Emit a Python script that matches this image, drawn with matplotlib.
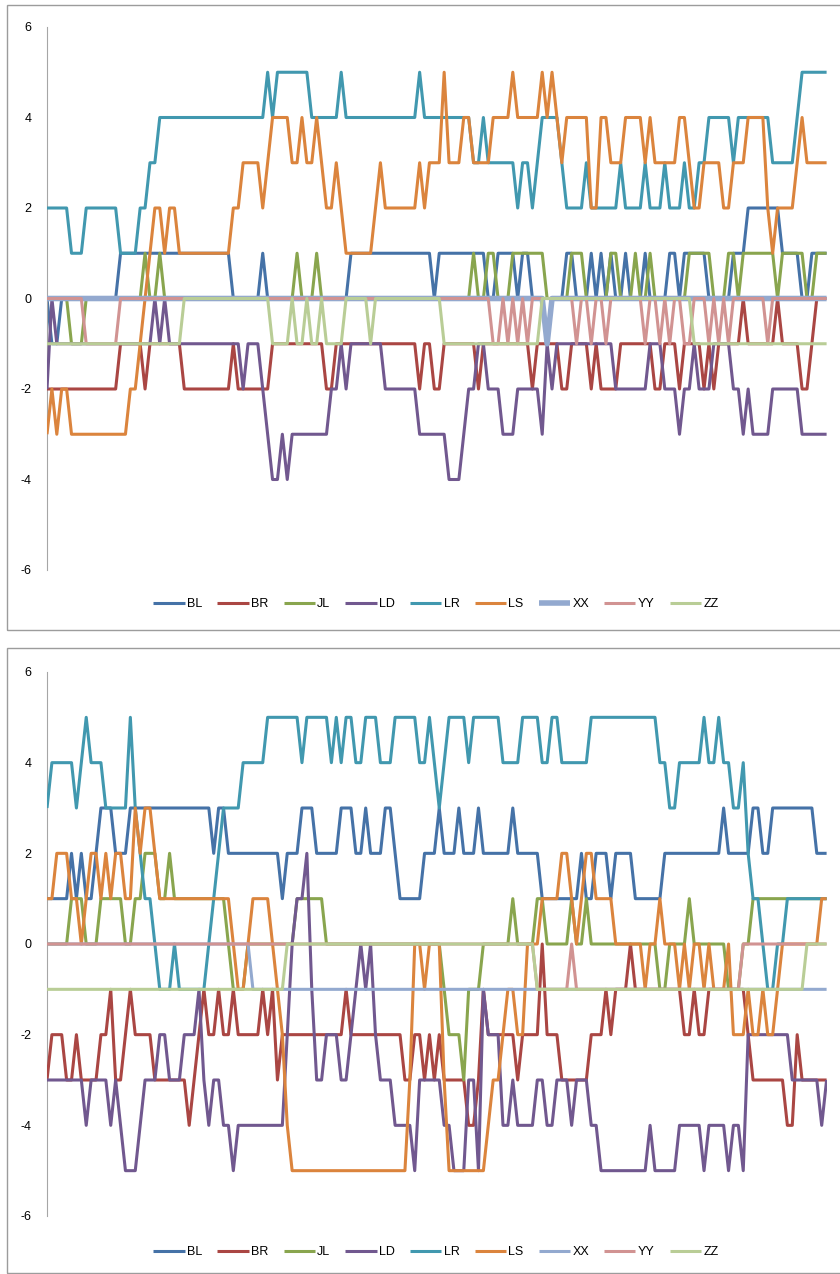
import numpy as np
import matplotlib.pyplot as plt
from matplotlib.patches import Rectangle

N = 160
names = ['BL', 'BR', 'JL', 'LD', 'LR', 'LS', 'XX', 'YY', 'ZZ']
colors = ['#4572A7', '#AA4643', '#89A54E', '#71588F', '#4198AF', '#DB843D',
          '#93A9CF', '#D19392', '#B9CD96']

# each series is stored as (index, value) pairs: the value holds from that index on
# top chart
top_bl = [(0, 0), (1, -1), (3, 0), (15, 1), (38, 0), (44, 1), (45, 0), (62, 1), (79, 0), (80, 1),
          (90, 0), (92, 1), (96, 0), (97, 1), (99, 0), (106, 1), (108, 0), (111, 1), (112, 0),
          (113, 1), (114, 0), (115, 1), (116, 0), (118, 1), (119, 0), (122, 1), (123, 0), (127, 1),
          (129, 0), (130, 1), (135, 0), (140, 1), (143, 2), (150, 1), (154, 0), (156, 1)]
top_br = [(0, -2), (15, -1), (20, -2), (21, -1), (28, -2), (38, -1), (39, -2), (46, -1), (57, -2),
          (59, -1), (76, -2), (77, -1), (79, -2), (81, -1), (88, -2), (89, -1), (99, -2), (100, -1),
          (105, -2), (107, -1), (111, -2), (112, -1), (113, -2), (117, -1), (124, -2), (126, -1),
          (129, -2), (130, -1), (134, -2), (135, -1), (136, -2), (137, -1), (142, 0), (143, -1),
          (149, 0), (150, -1), (154, -2), (156, -1), (157, 0)]
top_jl = [(0, 0), (5, -1), (8, 0), (20, 1), (21, 0), (23, 1), (24, 0), (51, 1), (52, 0), (55, 1),
          (56, 0), (87, 1), (88, 0), (90, 1), (92, 0), (95, 1), (102, 0), (107, 1), (110, 0),
          (115, 1), (117, 0), (120, 1), (121, 0), (123, 1), (124, 0), (131, 1), (136, 0), (139, 1),
          (141, 0), (142, 1), (149, 0), (150, 1), (155, 0), (157, 1)]
top_ld = [(0, -2), (1, 0), (2, -1), (22, 0), (23, -1), (24, 0), (25, -1), (40, -2), (41, -1),
          (44, -2), (45, -3), (46, -4), (48, -3), (49, -4), (50, -3), (58, -2), (60, -1), (61, -2),
          (62, -1), (69, -2), (76, -3), (82, -4), (85, -3), (86, -2), (88, -1), (90, -2), (93, -3),
          (96, -2), (101, -3), (102, -1), (103, -2), (104, -1), (116, -2), (123, -1), (126, -2),
          (129, -3), (130, -2), (132, -1), (133, -2), (136, -1), (140, -2), (142, -3), (143, -2),
          (144, -3), (148, -2), (154, -3)]
top_lr = [(0, 2), (5, 1), (8, 2), (15, 1), (19, 2), (21, 3), (23, 4), (45, 5), (46, 4), (47, 5),
          (54, 4), (60, 5), (61, 4), (76, 5), (77, 4), (87, 3), (89, 4), (90, 3), (96, 2), (97, 3),
          (99, 2), (100, 3), (101, 4), (105, 3), (106, 2), (110, 3), (111, 2), (117, 3), (118, 2),
          (122, 3), (123, 2), (126, 3), (127, 2), (130, 3), (131, 2), (133, 3), (135, 4), (140, 3),
          (141, 4), (148, 3), (153, 4), (154, 5)]
top_ls = [(0, -3), (1, -2), (2, -3), (3, -2), (5, -3), (17, -2), (19, -1), (20, 0), (21, 1), (22, 2),
          (24, 1), (25, 2), (27, 1), (38, 2), (40, 3), (44, 2), (45, 3), (46, 4), (50, 3), (52, 4),
          (53, 3), (55, 4), (56, 3), (57, 2), (59, 3), (60, 2), (61, 1), (67, 2), (68, 3), (69, 2),
          (76, 3), (77, 2), (78, 3), (81, 5), (82, 3), (85, 4), (87, 3), (91, 4), (95, 5), (96, 4),
          (101, 5), (102, 4), (103, 5), (104, 4), (105, 3), (106, 4), (111, 2), (113, 4), (115, 3),
          (118, 4), (122, 3), (123, 4), (124, 3), (129, 4), (131, 3), (132, 2), (134, 3), (138, 2),
          (140, 3), (143, 4), (147, 2), (148, 1), (149, 2), (153, 3), (154, 4), (155, 3)]
top_xx = [(0, 0), (102, -1), (103, 0)]
top_yy = [(0, 0), (8, -1), (15, 0), (91, -1), (93, 0), (94, -1), (95, 0), (96, -1), (97, 0),
          (98, -1), (99, 0), (108, -1), (109, 0), (111, -1), (112, 0), (114, -1), (115, 0),
          (122, -1), (123, 0), (125, -1), (126, 0), (127, -1), (128, 0), (130, -1), (132, 0),
          (135, -1), (136, 0), (137, -1), (138, 0), (139, -1), (140, 0), (147, -1), (148, 0)]
top_zz = [(0, -1), (28, 0), (46, -1), (50, 0), (51, -1), (53, 0), (54, -1), (56, 0), (57, -1),
          (61, 0), (66, -1), (67, 0), (81, -1), (101, 0), (132, -1)]

# bottom chart
bot_bl = [(0, 1), (5, 2), (6, 1), (7, 2), (8, 1), (10, 2), (11, 3), (14, 2), (17, 3), (34, 2),
          (35, 3), (37, 2), (48, 1), (49, 2), (52, 3), (55, 2), (60, 3), (63, 2), (65, 3), (66, 2),
          (69, 3), (71, 2), (72, 1), (77, 2), (80, 3), (81, 2), (84, 3), (85, 2), (88, 3), (89, 2),
          (95, 3), (96, 2), (101, 1), (109, 2), (110, 1), (112, 2), (115, 1), (116, 2), (120, 1),
          (126, 2), (138, 3), (139, 2), (144, 3), (146, 2), (148, 3), (157, 2)]
bot_br = [(0, -3), (1, -2), (4, -3), (6, -2), (7, -3), (11, -2), (13, -1), (14, -3), (16, -2),
          (17, -1), (18, -2), (22, -3), (29, -4), (30, -3), (31, -2), (32, -1), (33, -2), (35, -1),
          (36, -2), (38, -1), (39, -2), (44, -1), (45, -2), (46, -1), (47, -3), (48, -2), (61, -1),
          (62, -2), (73, -3), (75, -2), (77, -3), (78, -2), (79, -3), (80, -2), (81, -3), (86, -4),
          (88, -3), (89, -1), (90, -2), (96, -3), (97, -2), (101, 0), (102, -2), (105, -3),
          (111, -2), (114, -1), (115, -2), (116, -1), (119, 0), (120, -1), (130, -2), (132, -1),
          (133, -2), (135, -1), (143, -2), (144, -3), (151, -4), (153, -2), (154, -3)]
bot_jl = [(0, 0), (5, 1), (8, 0), (11, 1), (16, 0), (18, 1), (20, 2), (23, 1), (25, 2), (26, 1),
          (37, 0), (38, -1), (41, 0), (51, 1), (57, 0), (81, -1), (82, -2), (85, -3), (86, -1),
          (89, 0), (95, 1), (96, 0), (100, 1), (102, 0), (107, 1), (108, 0), (110, 1), (111, 0),
          (125, -1), (127, 0), (131, 1), (132, 0), (139, -1), (142, 0), (144, 1)]
bot_ld = [(0, -3), (8, -4), (9, -3), (13, -4), (14, -3), (15, -4), (16, -5), (19, -4), (20, -3),
          (23, -2), (25, -3), (28, -2), (31, -1), (32, -3), (33, -4), (34, -3), (36, -4), (38, -5),
          (39, -4), (49, -2), (50, 0), (51, 1), (53, 2), (54, -1), (55, -3), (57, -2), (60, -3),
          (62, -2), (63, -1), (64, 0), (65, -1), (66, 0), (67, -2), (68, -3), (71, -4), (75, -5),
          (76, -3), (81, -4), (83, -5), (86, -3), (88, -5), (89, -1), (90, -2), (93, -4), (95, -3),
          (96, -4), (100, -3), (102, -4), (104, -3), (107, -4), (108, -3), (111, -4), (113, -5),
          (123, -4), (124, -5), (129, -4), (134, -5), (135, -4), (139, -5), (140, -4), (142, -5),
          (143, -2), (152, -3), (158, -4), (159, -3)]
bot_lr = [(0, 3), (1, 4), (6, 3), (7, 4), (8, 5), (9, 4), (12, 3), (17, 5), (18, 3), (19, 2),
          (20, 1), (22, 0), (23, -1), (26, 0), (27, -1), (33, 0), (34, 1), (35, 2), (36, 3), (40, 4),
          (45, 5), (52, 4), (53, 5), (58, 4), (59, 5), (60, 4), (61, 5), (63, 4), (65, 5), (68, 4),
          (71, 5), (76, 4), (78, 5), (79, 4), (80, 3), (81, 4), (82, 5), (86, 4), (87, 5), (93, 4),
          (97, 5), (101, 4), (103, 5), (105, 4), (111, 5), (125, 4), (127, 3), (129, 4), (134, 5),
          (135, 4), (137, 5), (138, 4), (140, 3), (142, 4), (143, 2), (144, 1), (146, 0), (147, -1),
          (149, 0), (151, 1)]
bot_ls = [(0, 1), (2, 2), (5, 1), (7, 0), (8, 1), (9, 2), (11, 1), (12, 2), (13, 1), (14, 2),
          (16, 1), (18, 3), (19, 2), (20, 3), (22, 2), (23, 1), (38, 0), (39, -1), (41, 0), (42, 1),
          (46, 0), (47, -1), (48, -2), (49, -4), (50, -5), (74, -3), (75, 0), (77, -1), (78, 0),
          (81, -3), (82, -5), (90, -4), (91, -3), (93, -2), (94, -1), (96, -2), (98, 0), (101, 1),
          (105, 2), (107, 1), (108, 0), (109, 1), (110, 2), (112, 1), (116, 0), (122, -1), (123, 0),
          (125, 1), (126, 0), (129, -1), (130, 0), (131, -1), (132, 0), (134, -1), (135, 0),
          (136, -1), (139, 0), (140, -2), (143, -1), (144, -2), (146, -1), (147, -2), (149, -1),
          (150, 0), (158, 1)]
bot_xx = [(0, 0), (42, -1)]
bot_yy = [(0, 0), (100, -1), (107, 0), (108, -1), (142, 0)]
bot_zz = [(0, -1), (49, 0), (100, -1), (155, 0)]

top_series = [top_bl, top_br, top_jl, top_ld, top_lr, top_ls, top_xx, top_yy, top_zz]
bot_series = [bot_bl, bot_br, bot_jl, bot_ld, bot_lr, bot_ls, bot_xx, bot_yy, bot_zz]


def expand(changes):
    vals = np.zeros(N)
    for k, (start, v) in enumerate(changes):
        end = changes[k + 1][0] if k + 1 < len(changes) else N
        vals[start:end] = v
    return vals


W, H = 840, 1274
plt.rcParams['font.family'] = ['Liberation Sans', 'DejaVu Sans']
plt.rcParams['axes.unicode_minus'] = False
fig = plt.figure(figsize=(W / 100, H / 100), dpi=100)

# panel frames
fig.patches.append(Rectangle((7 / W, 1 - 630 / H), 1, 625 / H, transform=fig.transFigure,
                             fill=False, edgecolor='#9c9c9c', linewidth=1))
fig.patches.append(Rectangle((7 / W, 1 - 1273 / H), 1, 625 / H, transform=fig.transFigure,
                             fill=False, edgecolor='#9c9c9c', linewidth=1))


def draw_panel(y_top, y_bot, series, xx_width, legend_y):
    ax = fig.add_axes([47 / W, 1 - y_bot / H, (826.6 - 47) / W, (y_bot - y_top) / H])
    x = np.arange(N)
    for i, (name, col, data) in enumerate(zip(names, colors, series)):
        lw = xx_width if name == 'XX' else 2.2
        ax.plot(x, expand(data), color=col, lw=lw, label=name, zorder=2 + i,
                solid_joinstyle='round', solid_capstyle='butt')
    ax.set_xlim(0, N - 1)
    ax.set_ylim(-6, 6)
    ax.set_yticks(range(-6, 7, 2))
    ax.set_xticks([])
    for s in ['top', 'right', 'bottom']:
        ax.spines[s].set_visible(False)
    ax.spines['left'].set_color('#a6a6a6')
    ax.tick_params(axis='y', length=0, pad=11, labelsize=9)
    ax.legend(loc='center', bbox_to_anchor=(436 / W, 1 - legend_y / H),
              bbox_transform=fig.transFigure, ncol=9, frameon=False, fontsize=9,
              handlelength=2.5, handletextpad=0.2, columnspacing=1.2)
    return ax


draw_panel(27, 570, top_series, 4.0, 604)
draw_panel(672, 1216, bot_series, 2.2, 1252)

fig.savefig('out.png', dpi=100)
